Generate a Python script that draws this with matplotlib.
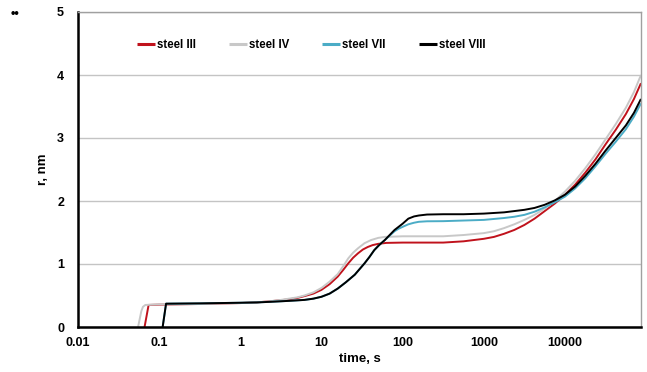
import matplotlib
matplotlib.use("Agg")
import matplotlib.pyplot as plt
from matplotlib.ticker import FixedLocator, NullLocator

plt.rcParams['font.family'] = ['Liberation Sans', 'DejaVu Sans']

# log10(time, s) and mean radius r (nm) for each steel
logt_III = [-1.18, -1.13, -1.0, -0.5, 0.0, 0.2, 0.376, 0.5, 0.6, 0.7, 0.79, 0.9, 1.0, 1.1, 1.2, 1.27, 1.33,
            1.39, 1.45, 1.51, 1.57, 1.63, 1.70, 1.8, 2.0, 2.25, 2.5, 2.75, 3.0, 3.125, 3.25, 3.375, 3.5,
            3.625, 3.75, 3.875, 4.0, 4.125, 4.25, 4.375, 4.5, 4.625, 4.75, 4.85, 4.936]
r_III = [0.0, 0.35, 0.355, 0.365, 0.38, 0.39, 0.41, 0.425, 0.44, 0.46, 0.49, 0.53, 0.59, 0.68, 0.80, 0.91, 1.01,
         1.10, 1.17, 1.23, 1.27, 1.30, 1.32, 1.335, 1.34, 1.34, 1.34, 1.36, 1.40, 1.43, 1.48, 1.54, 1.62,
         1.72, 1.84, 1.96, 2.10, 2.26, 2.45, 2.66, 2.90, 3.13, 3.38, 3.62, 3.87]

logt_IV = [-1.26, -1.22, -1.2, -1.17, -1.0, -0.5, 0.0, 0.2, 0.376, 0.5, 0.6, 0.7, 0.79, 0.9, 1.0, 1.1, 1.2,
           1.27, 1.33, 1.39, 1.45, 1.53, 1.61, 1.7, 1.78, 2.0, 2.25, 2.5, 2.75, 3.0, 3.125, 3.25, 3.375, 3.5,
           3.625, 3.75, 3.875, 4.0, 4.125, 4.25, 4.375, 4.5, 4.625, 4.75, 4.85, 4.936]
r_IV = [0.0, 0.25, 0.32, 0.35, 0.36, 0.365, 0.38, 0.39, 0.41, 0.43, 0.45, 0.47, 0.50, 0.55, 0.62, 0.72, 0.84,
        0.97, 1.09, 1.18, 1.25, 1.33, 1.38, 1.415, 1.43, 1.44, 1.44, 1.44, 1.46, 1.49, 1.52, 1.57, 1.63, 1.70,
        1.78, 1.88, 2.00, 2.15, 2.32, 2.52, 2.74, 2.98, 3.22, 3.48, 3.73, 4.00]

logt_VII = [-0.957, -0.915, -0.5, 0.0, 0.2, 0.376, 0.6, 0.79, 0.9, 1.0, 1.1, 1.2, 1.3, 1.41, 1.47, 1.53, 1.59,
            1.65, 1.71, 1.78, 1.84, 1.90, 1.95, 2.0, 2.07, 2.14, 2.2, 2.3, 2.5, 2.75, 3.0, 3.25, 3.375, 3.5,
            3.625, 3.75, 3.875, 4.0, 4.125, 4.25, 4.375, 4.5, 4.625, 4.75, 4.85, 4.936]
r_VII = [0.0, 0.37, 0.375, 0.385, 0.39, 0.40, 0.415, 0.43, 0.45, 0.48, 0.53, 0.61, 0.71, 0.83, 0.92, 1.01, 1.11,
         1.22, 1.30, 1.38, 1.45, 1.52, 1.56, 1.59, 1.63, 1.655, 1.67, 1.678, 1.68, 1.69, 1.70, 1.73, 1.75, 1.78,
         1.83, 1.90, 1.98, 2.07, 2.20, 2.36, 2.55, 2.75, 2.94, 3.14, 3.34, 3.55]

logt_VIII = [-0.957, -0.915, -0.5, 0.0, 0.2, 0.376, 0.6, 0.79, 0.9, 1.0, 1.1, 1.2, 1.3, 1.41, 1.47, 1.53, 1.59,
             1.65, 1.71, 1.78, 1.84, 1.90, 1.95, 2.0, 2.07, 2.14, 2.2, 2.3, 2.5, 2.75, 3.0, 3.25, 3.375, 3.5,
             3.625, 3.75, 3.875, 4.0, 4.125, 4.25, 4.375, 4.5, 4.625, 4.75, 4.85, 4.936]
r_VIII = [0.0, 0.37, 0.375, 0.385, 0.39, 0.40, 0.415, 0.43, 0.45, 0.48, 0.53, 0.61, 0.71, 0.83, 0.92, 1.01, 1.11,
          1.22, 1.30, 1.38, 1.46, 1.54, 1.59, 1.64, 1.72, 1.755, 1.77, 1.785, 1.79, 1.79, 1.80, 1.82, 1.84, 1.86,
          1.89, 1.94, 2.01, 2.10, 2.23, 2.40, 2.59, 2.80, 3.00, 3.20, 3.40, 3.62]

series = [
    ("steel III", logt_III, r_III, "#c0121c"),
    ("steel IV", logt_IV, r_IV, "#c8c8c8"),
    ("steel VII", logt_VII, r_VII, "#4bacc6"),
    ("steel VIII", logt_VIII, r_VIII, "#000000"),
]

x_ticks = [0.01, 0.1, 1, 10, 100, 1000, 10000]
x_tick_labels = ["0.01", "0.1", "1", "10", "100", "1000", "10000"]
y_ticks = [0, 1, 2, 3, 4, 5]

fig = plt.figure(figsize=(6.47, 3.72), dpi=100)
ax = fig.add_axes([78 / 647, 45 / 372, 563 / 647, 315 / 372])

for name, lt, r, c in series:
    ax.plot([10 ** v for v in lt], r, color=c, lw=1.4, label=name,
            solid_joinstyle="round", solid_capstyle="butt")

ax.set_xscale("log")
ax.set_xlim(0.01, 86400)
ax.set_ylim(0, 5)
ax.xaxis.set_major_locator(FixedLocator(x_ticks))
ax.xaxis.set_minor_locator(NullLocator())
ax.set_xticklabels(x_tick_labels)
ax.set_yticks(y_ticks)
ax.tick_params(axis="both", length=0, labelsize=9)
ax.tick_params(axis="y", pad=10)
ax.tick_params(axis="x", pad=7)
for lab in ax.get_xticklabels() + ax.get_yticklabels():
    lab.set_fontweight("bold")

ax.yaxis.grid(True, color="#c4c4c4", lw=1)
ax.set_axisbelow(True)

for side in ("left", "bottom"):
    ax.spines[side].set_color("black")
    ax.spines[side].set_linewidth(1.8)
for side in ("top", "right"):
    ax.spines[side].set_color("#a0a0a0")
    ax.spines[side].set_linewidth(1.0)

ax.set_xlabel("time, s", fontsize=9.5, fontweight="bold", labelpad=3)
ax.set_ylabel("r, nm", fontsize=9.5, fontweight="bold", labelpad=6)

leg = ax.legend(loc="center left", bbox_to_anchor=(0.105, 0.895), ncol=4, frameon=False,
                prop={"size": 8.3, "weight": "bold"}, handlelength=1.55, handletextpad=0.2,
                columnspacing=2.85, borderpad=0, borderaxespad=0)
for h in leg.get_lines():
    h.set_linewidth(2.2)

fig.text(15 / 647, 1 - 14 / 372, "••", fontsize=9, fontweight="bold", ha="center", va="center")

fig.savefig("out.png", dpi=100)
